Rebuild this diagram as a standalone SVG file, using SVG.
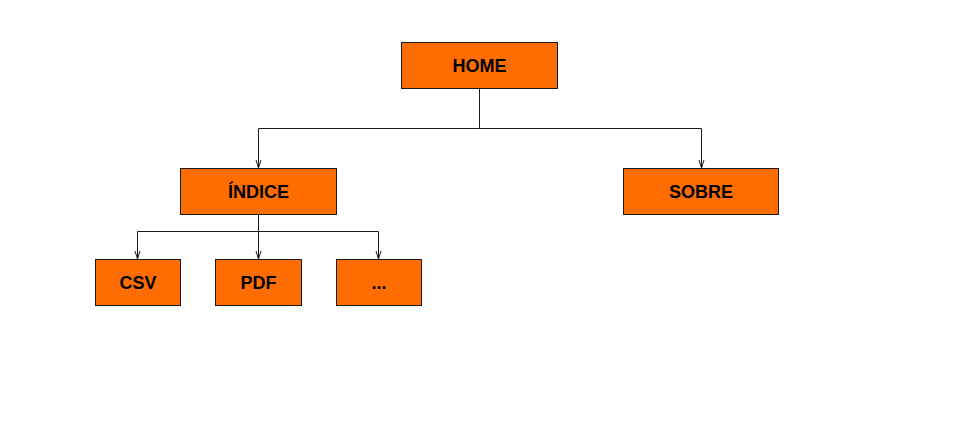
<svg xmlns="http://www.w3.org/2000/svg" width="961" height="438" viewBox="0 0 961 438">
<style>
.box{fill:#ff6d01;stroke:#1a1a1a;stroke-width:1}
.lbl{font-family:"Liberation Sans",Arial,sans-serif;font-weight:bold;font-size:18px;fill:#000;text-anchor:middle;dominant-baseline:central}
.edge{fill:none;stroke:#1a1a1a;stroke-width:1;marker-end:url(#arr)}
</style>
<defs>
<marker id="arr" viewBox="0 0 8 8" refX="8" refY="4" markerWidth="8" markerHeight="8" markerUnits="userSpaceOnUse" orient="auto">
<path d="M0,1.5 L8,4 L0,6.5" fill="none" stroke="#1a1a1a" stroke-width="1"/>
</marker>
</defs>
<rect width="961" height="438" fill="#fff"/>
<g id="connectors">
<path class="edge" d="M479.5,88.5 V128.5 H258.5 V168"/>
<path class="edge" d="M479.5,128.5 H701.5 V168"/>
<path class="edge" d="M258.5,214.5 V231.5 H137.5 V259"/>
<path class="edge" d="M258.5,231.5 V259"/>
<path class="edge" d="M258.5,231.5 H378.5 V259"/>
</g>
<g id="home"><rect class="box" x="401.5" y="42.5" width="156" height="46"/><text class="lbl" x="479.5" y="66">HOME</text></g>
<g id="indice"><rect class="box" x="180.5" y="168.5" width="156" height="46"/><text class="lbl" x="258.5" y="192">ÍNDICE</text></g>
<g id="sobre"><rect class="box" x="623.5" y="168.5" width="155" height="46"/><text class="lbl" x="701" y="192">SOBRE</text></g>
<g id="csv"><rect class="box" x="95.5" y="259.5" width="85" height="46"/><text class="lbl" x="138" y="283">CSV</text></g>
<g id="pdf"><rect class="box" x="215.5" y="259.5" width="86" height="46"/><text class="lbl" x="258.5" y="283">PDF</text></g>
<g id="more"><rect class="box" x="336.5" y="259.5" width="85" height="46"/><text class="lbl" x="379" y="283">...</text></g>
</svg>
